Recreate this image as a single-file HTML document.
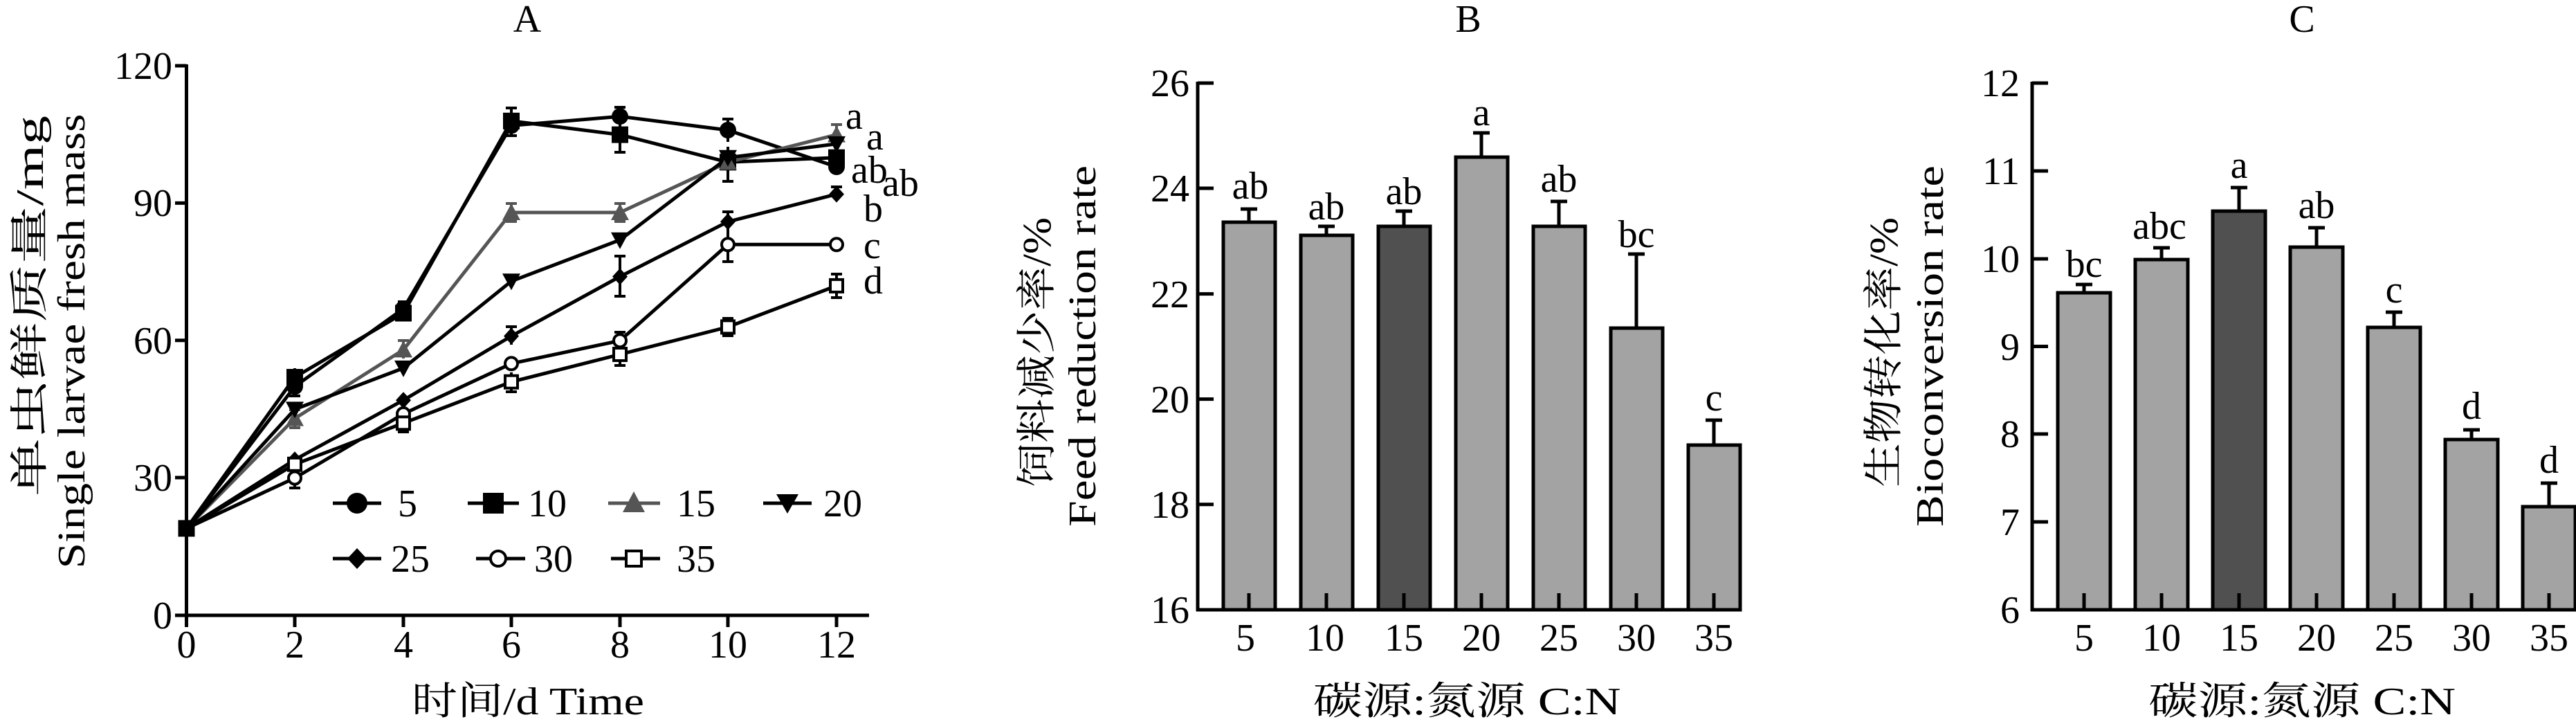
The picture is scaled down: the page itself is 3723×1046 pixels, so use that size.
<!DOCTYPE html>
<html><head><meta charset="utf-8"><style>
html,body{margin:0;padding:0;background:#fff;}
svg{display:block;}
text{font-family:"Liberation Serif","Noto Serif CJK SC","Noto Sans CJK SC",serif;fill:#000;}
</style></head><body>
<svg width="3723" height="1046" viewBox="0 0 3723 1046" xmlns="http://www.w3.org/2000/svg">
<!-- ===== Panel A ===== -->
<text x="762" y="46" font-size="56" text-anchor="middle">A</text>
<g stroke="#000" stroke-width="5" fill="none">
<line x1="269.5" y1="93" x2="269.5" y2="891"/>
<line x1="267" y1="889" x2="1256" y2="889"/>
<line x1="253" y1="95" x2="269.5" y2="95"/>
<line x1="253" y1="293.4" x2="269.5" y2="293.4"/>
<line x1="253" y1="491.8" x2="269.5" y2="491.8"/>
<line x1="253" y1="690" x2="269.5" y2="690"/>
<line x1="253" y1="889" x2="269.5" y2="889"/>
<line x1="269.5" y1="889" x2="269.5" y2="906"/>
<line x1="426" y1="889" x2="426" y2="906"/>
<line x1="583" y1="889" x2="583" y2="906"/>
<line x1="739" y1="889" x2="739" y2="906"/>
<line x1="896" y1="889" x2="896" y2="906"/>
<line x1="1052" y1="889" x2="1052" y2="906"/>
<line x1="1209" y1="889" x2="1209" y2="906"/>
</g>
<g font-size="56" text-anchor="end">
<text x="249" y="114">120</text><text x="249" y="312">90</text><text x="249" y="511">60</text><text x="249" y="709">30</text><text x="249" y="908">0</text>
</g>
<g font-size="56" text-anchor="middle">
<text x="269.5" y="950">0</text><text x="426" y="950">2</text><text x="583" y="950">4</text><text x="739" y="950">6</text><text x="896" y="950">8</text><text x="1052" y="950">10</text><text x="1209" y="950">12</text>
</g>
<text x="763" y="1032" font-size="56" text-anchor="middle" textLength="336" lengthAdjust="spacingAndGlyphs">时间/d Time</text>
<text transform="translate(62,442) rotate(-90)" font-size="56" text-anchor="middle" textLength="550" lengthAdjust="spacingAndGlyphs">单虫鲜质量/mg</text>
<text transform="translate(122,493) rotate(-90)" font-size="56" text-anchor="middle" textLength="657" lengthAdjust="spacingAndGlyphs">Single larvae fresh mass</text>

<!-- series lines -->
<g fill="none" stroke-width="5" stroke-linejoin="round">
<polyline stroke="#000" points="269.5,763.4 426,558.4 583,446 739,181.4 896,168.2 1052,188 1209,241"/>
<polyline stroke="#000" points="269.5,763.4 426,545 583,452.5 739,174.8 896,194.6 1052,234.3 1209,227.7"/>
<polyline stroke="#555" points="269.5,763.4 426,604.6 583,505.4 739,307 896,307 1052,234.3 1209,194.6"/>
<polyline stroke="#000" points="269.5,763.4 426,591.4 583,531.9 739,406.3 896,346.7 1052,227.7 1209,207.9"/>
<polyline stroke="#000" points="269.5,763.4 426,664.2 583,578.2 739,485.6 896,399.6 1052,320.3 1209,280.6"/>
<polyline stroke="#000" points="269.5,763.4 426,690.6 583,598 739,525.3 896,492.2 1052,353.3 1209,353.3"/>
<polyline stroke="#000" points="269.5,763.4 426,670.8 583,611.3 739,551.7 896,512 1052,472.4 1209,412.9"/>
</g>
<!-- error bars -->
<g stroke="#000" stroke-width="4" fill="none">
<path d="M739,156V196M731,156H747M731,196H747"/>
<path d="M896,155V184M888,155H904"/>
<path d="M896,178V220M888,220H904"/>
<path d="M1052,172V205M1044,172H1060"/>
<path d="M1052,212V262M1044,262H1060"/>
<path d="M426,532V572M418,572H434"/>
<path d="M583,436V464M575,436H591"/>
<path d="M896,370V428M888,370H904M888,428H904"/>
<path d="M1052,306V336M1044,306H1060"/>
<path d="M1052,335V378M1044,378H1060"/>
<path d="M426,675V705M418,675H434M418,705H434"/>
<path d="M739,538V566M731,566H747"/>
<path d="M896,480V505M888,480H904"/>
<path d="M896,498V528M888,528H904"/>
<path d="M1209,396V430M1201,396H1217M1201,430H1217"/>
<path d="M1052,460V485M1044,460H1060M1044,485H1060"/>
<path d="M1209,270V290M1201,270H1217"/>
<path d="M583,600V624M575,624H591"/>
<path d="M739,472V498M731,472H747"/>
</g>
<g stroke="#555" stroke-width="4" fill="none">
<path d="M739,294V320M731,294H747M731,320H747"/>
<path d="M896,294V320M888,294H904M888,320H904"/>
<path d="M583,492V518M575,492H591"/>
<path d="M426,592V618M418,592H434M418,618H434"/>
<path d="M1209,180V208M1201,180H1217"/>
</g>
<!-- markers -->
<defs>
<circle id="mc" r="12" fill="#000"/>
<rect id="ms" x="-12" y="-12" width="24" height="24" fill="#000"/>
<polygon id="mt" points="0,-13 13,11 -13,11" fill="#555"/>
<polygon id="mv" points="0,13 13,-11 -13,-11" fill="#000"/>
<polygon id="md" points="0,-12 11,0 0,12 -11,0" fill="#000"/>
<circle id="mo" r="9" fill="#fff" stroke="#000" stroke-width="4"/>
<rect id="mq" x="-9" y="-9" width="18" height="18" fill="#fff" stroke="#000" stroke-width="4"/>
</defs>
<use href="#mc" x="269.5" y="763.4"/><use href="#ms" x="269.5" y="763.4"/>
<use href="#mc" x="426" y="558.4"/><use href="#mc" x="583" y="446"/><use href="#mc" x="739" y="181.4"/><use href="#mc" x="896" y="168.2"/><use href="#mc" x="1052" y="188"/><use href="#mc" x="1209" y="241"/>
<use href="#ms" x="426" y="545"/><use href="#ms" x="583" y="452.5"/><use href="#ms" x="739" y="174.8"/><use href="#ms" x="896" y="194.6"/><use href="#ms" x="1052" y="234.3"/><use href="#ms" x="1209" y="227.7"/>
<use href="#mt" x="426" y="604.6"/><use href="#mt" x="583" y="505.4"/><use href="#mt" x="739" y="307"/><use href="#mt" x="896" y="307"/><use href="#mt" x="1052" y="234.3"/><use href="#mt" x="1209" y="194.6"/>
<use href="#mv" x="426" y="591.4"/><use href="#mv" x="583" y="531.9"/><use href="#mv" x="739" y="406.3"/><use href="#mv" x="896" y="346.7"/><use href="#mv" x="1052" y="227.7"/><use href="#mv" x="1209" y="207.9"/>
<use href="#md" x="426" y="664.2"/><use href="#md" x="583" y="578.2"/><use href="#md" x="739" y="485.6"/><use href="#md" x="896" y="399.6"/><use href="#md" x="1052" y="320.3"/><use href="#md" x="1209" y="280.6"/>
<use href="#mo" x="426" y="690.6"/><use href="#mo" x="583" y="598"/><use href="#mo" x="739" y="525.3"/><use href="#mo" x="896" y="492.2"/><use href="#mo" x="1052" y="353.3"/><use href="#mo" x="1209" y="353.3"/>
<use href="#mq" x="426" y="670.8"/><use href="#mq" x="583" y="611.3"/><use href="#mq" x="739" y="551.7"/><use href="#mq" x="896" y="512"/><use href="#mq" x="1052" y="472.4"/><use href="#mq" x="1209" y="412.9"/>
<!-- letters A -->
<g font-size="56">
<text x="1222" y="186">a</text><text x="1252" y="216">a</text><text x="1230" y="264">ab</text><text x="1275" y="283">ab</text>
<text x="1248" y="320">b</text><text x="1248" y="373">c</text><text x="1248" y="424">d</text>
</g>
<!-- legend -->
<g stroke-width="5" fill="none">
<line x1="481" y1="727" x2="551" y2="727" stroke="#000"/>
<line x1="676" y1="727" x2="750" y2="727" stroke="#000"/>
<line x1="879" y1="727" x2="954" y2="727" stroke="#555"/>
<line x1="1103" y1="727" x2="1173" y2="727" stroke="#000"/>
<line x1="481" y1="807" x2="551" y2="807" stroke="#000"/>
<line x1="688" y1="807" x2="759" y2="807" stroke="#000"/>
<line x1="883" y1="807" x2="954" y2="807" stroke="#000"/>
</g>
<circle cx="516" cy="727" r="15" fill="#000"/>
<rect x="698" y="712" width="30" height="30" fill="#000"/>
<polygon points="916,710 932,740 900,740" fill="#555"/>
<polygon points="1138,742 1154,714 1122,714" fill="#000"/>
<polygon points="516,792 530,807 516,822 502,807" fill="#000"/>
<circle cx="720" cy="807" r="11" fill="#fff" stroke="#000" stroke-width="4"/>
<rect x="905" y="796" width="22" height="22" fill="#fff" stroke="#000" stroke-width="4"/>
<g font-size="56">
<text x="575" y="746">5</text><text x="763" y="746">10</text><text x="978" y="746">15</text><text x="1190" y="746">20</text>
<text x="565" y="826">25</text><text x="772" y="826">30</text><text x="978" y="826">35</text>
</g>

<!-- ===== Panel B ===== -->
<text x="2122" y="46" font-size="56" text-anchor="middle">B</text>
<text transform="translate(1518,509) rotate(-90)" font-size="58" text-anchor="middle" textLength="390" lengthAdjust="spacingAndGlyphs">饲料减少率/%</text>
<text transform="translate(1583,500) rotate(-90)" font-size="56" text-anchor="middle" textLength="522" lengthAdjust="spacingAndGlyphs">Feed reduction rate</text>
<g stroke="#000" stroke-width="5">
<rect x="1768" y="321" width="75" height="560" fill="#a3a3a3"/>
<rect x="1880" y="340" width="75" height="541" fill="#a3a3a3"/>
<rect x="1992" y="327" width="75" height="554" fill="#505050"/>
<rect x="2104" y="227" width="75" height="654" fill="#a3a3a3"/>
<rect x="2216" y="327" width="75" height="554" fill="#a3a3a3"/>
<rect x="2328" y="474" width="75" height="407" fill="#a3a3a3"/>
<rect x="2440" y="643" width="75" height="238" fill="#a3a3a3"/>
<path fill="none" d="M1805,321V302M1793,302H1817 M1917,340V327M1905,327H1929 M2029,327V305M2017,305H2041 M2141,227V192M2129,192H2153 M2253,327V291M2241,291H2265 M2365,474V367M2353,367H2377 M2477,643V607M2465,607H2489"/>
<path fill="none" d="M1805,881V857M1917,881V857M2029,881V857M2141,881V857M2253,881V857M2365,881V857M2477,881V857"/>
<line x1="1731" y1="118" x2="1731" y2="883"/>
<line x1="1729" y1="881" x2="2517" y2="881"/>
<path fill="none" d="M1731,120H1754M1731,272H1754M1731,424.6H1754M1731,576.6H1754M1731,728.8H1754M1731,881H1754"/>
</g>
<g font-size="56" text-anchor="end">
<text x="1719" y="139">26</text><text x="1719" y="291">24</text><text x="1719" y="444">22</text><text x="1719" y="596">20</text><text x="1719" y="748">18</text><text x="1719" y="900">16</text>
</g>
<g font-size="56" text-anchor="middle">
<text x="1800" y="940">5</text><text x="1915" y="940">10</text><text x="2029" y="940">15</text><text x="2141" y="940">20</text><text x="2253" y="940">25</text><text x="2365" y="940">30</text><text x="2477" y="940">35</text>
<text x="1807" y="287">ab</text><text x="1917" y="317">ab</text><text x="2029" y="295">ab</text><text x="2141" y="181">a</text><text x="2253" y="277">ab</text><text x="2365" y="357">bc</text><text x="2477" y="593">c</text>
</g>
<text x="2120" y="1032" font-size="56" text-anchor="middle" textLength="445" lengthAdjust="spacingAndGlyphs">碳源:氮源  C:N</text>

<!-- ===== Panel C ===== -->
<text x="3327" y="46" font-size="56" text-anchor="middle">C</text>
<text transform="translate(2742,509) rotate(-90)" font-size="58" text-anchor="middle" textLength="390" lengthAdjust="spacingAndGlyphs">生物转化率/%</text>
<text transform="translate(2808,500) rotate(-90)" font-size="56" text-anchor="middle" textLength="522" lengthAdjust="spacingAndGlyphs">Bioconversion rate</text>
<g stroke="#000" stroke-width="5">
<rect x="2974" y="423" width="76" height="458" fill="#a3a3a3"/>
<rect x="3086" y="375" width="76" height="506" fill="#a3a3a3"/>
<rect x="3198" y="305" width="76" height="576" fill="#505050"/>
<rect x="3310" y="357" width="76" height="524" fill="#a3a3a3"/>
<rect x="3422" y="473" width="76" height="408" fill="#a3a3a3"/>
<rect x="3534" y="635" width="76" height="246" fill="#a3a3a3"/>
<rect x="3646" y="732" width="76" height="149" fill="#a3a3a3"/>
<path fill="none" d="M3012,423V411M3000,411H3024 M3124,375V358M3112,358H3136 M3236,305V271M3224,271H3248 M3348,357V329M3336,329H3360 M3460,473V451M3448,451H3472 M3572,635V621M3560,621H3584 M3684,732V698M3672,698H3696"/>
<path fill="none" d="M3012,881V857M3124,881V857M3236,881V857M3348,881V857M3460,881V857M3572,881V857M3684,881V857"/>
<line x1="2937" y1="118" x2="2937" y2="883"/>
<line x1="2935" y1="881" x2="3723" y2="881"/>
<path fill="none" d="M2937,120H2960M2937,247H2960M2937,374H2960M2937,500.5H2960M2937,627H2960M2937,754H2960M2937,881H2960"/>
</g>
<g font-size="56" text-anchor="end">
<text x="2919" y="139">12</text><text x="2919" y="266">11</text><text x="2919" y="393">10</text><text x="2919" y="520">9</text><text x="2919" y="646">8</text><text x="2919" y="773">7</text><text x="2919" y="900">6</text>
</g>
<g font-size="56" text-anchor="middle">
<text x="3012" y="940">5</text><text x="3124" y="940">10</text><text x="3236" y="940">15</text><text x="3348" y="940">20</text><text x="3460" y="940">25</text><text x="3572" y="940">30</text><text x="3684" y="940">35</text>
<text x="3012" y="400">bc</text><text x="3121" y="345">abc</text><text x="3236" y="257">a</text><text x="3348" y="315">ab</text><text x="3460" y="437">c</text><text x="3572" y="605">d</text><text x="3684" y="683">d</text>
</g>
<text x="3327" y="1032" font-size="56" text-anchor="middle" textLength="444" lengthAdjust="spacingAndGlyphs">碳源:氮源  C:N</text>
</svg>
</body></html>
